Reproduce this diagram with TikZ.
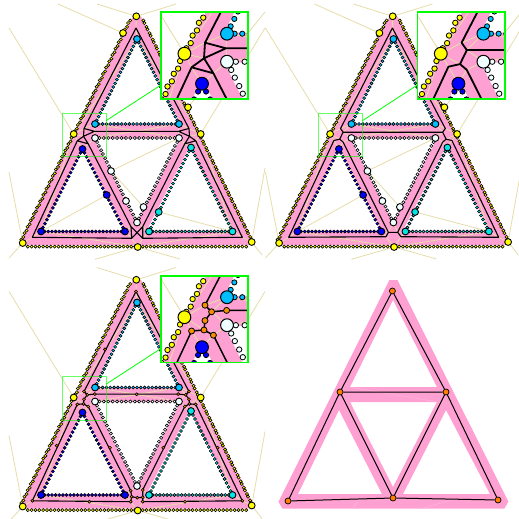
\documentclass[tikz,border=0pt]{standalone}
\definecolor{bandpink}{RGB}{255,160,210}
\definecolor{paleline}{RGB}{230,221,170}
\definecolor{paleband}{RGB}{255,184,222}
\definecolor{skyb}{RGB}{0,191,255}
\definecolor{azur}{RGB}{240,255,255}
\definecolor{blu}{RGB}{0,0,255}
\definecolor{turq}{RGB}{0,229,229}
\definecolor{yel}{RGB}{255,255,0}
\definecolor{orng}{RGB}{245,145,0}
\definecolor{greenbox}{RGB}{0,255,0}
\def\dw{.6pt}\def\bw{.9pt}\def\kw{1.1pt}\def\pw{.8pt}\def\ds{1.15}\def\br{3.4}
\tikzset{
  dotnode/.style={draw=black,fill=#1,line width=\dw},
  bignode/.style={draw=black,fill=#1,line width=\bw},
  onode/.style={draw=black,fill=orng,line width=\dw},
  beige/.style={draw=paleline,line width=\pw},
  skeleton/.style={draw=black,line width=\kw,line join=round,line cap=round},
}
% x1 y1 x2 y2 colour count jitter radius
\newcommand{\chain}[8]{%
  \foreach \i in {1,...,#6}{%
    \pgfmathsetmacro\myt{\i/(#6+1)}%
    \pgfmathsetmacro\myx{#1+(#3-#1)*\myt+(isodd(\i)?1:-1)*#7}%
    \pgfmathsetmacro\myy{#2+(#4-#2)*\myt+(isodd(\i)?1:-1)*#7}%
    \pgfmathsetmacro\myr{#8*\ds}%
    \path[dotnode=#5] (\myx,\myy) circle[radius=\myr];
  }}
\newcommand{\pinkband}{%
  \fill[bandpink,even odd rule]
    (133,16.5)--(141,16.5)--(252,238.2)--(248,245)--(26,245)--(22,238.2)--cycle
    (136.6,36.5)--(93.6,123.5)--(180.6,123.5)--cycle
    (93.6,138.5)--(180.6,138.5)--(136.6,223.5)--cycle
    (82.6,146.5)--(41.6,230.5)--(125.6,230.5)--cycle
    (189.6,146.5)--(146.6,230.5)--(233.6,230.5)--cycle;
}
\newcommand{\scene}[1]{%
  \pinkband
  % fixed points
  \coordinate (yA) at (136.3,16.3); \coordinate (yL) at (22.7,243);
  \coordinate (yR) at (251.7,242); \coordinate (yB) at (137.7,247);
  \coordinate (yML) at (73.7,134); \coordinate (yMR) at (200.7,134);
  \coordinate (sA) at (137,39); \coordinate (sL) at (95,124); \coordinate (sR) at (179,124);
  \coordinate (wL) at (95,138); \coordinate (wR) at (179,138); \coordinate (wB) at (137,222.5);
  \coordinate (bA) at (82.5,149); \coordinate (bL) at (41,231.5); \coordinate (bR) at (125,231.5);
  \coordinate (cA) at (191,147.5); \coordinate (cL) at (149,231.5); \coordinate (cR) at (232.5,231.5);
  \coordinate (top) at (136,28); \coordinate (cbl) at (32.3,237.3); \coordinate (cbr) at (242.3,237.3);
  \ifnum#1=1
    \coordinate (L1) at (84,128.5); \coordinate (L2) at (94.5,131.3); \coordinate (L3) at (83.5,136.3);
    \coordinate (L4) at (77.3,140.8); \coordinate (L5) at (88.2,143.8);
    \coordinate (R1) at (189,128.5); \coordinate (R2) at (178.5,131.3); \coordinate (R3) at (189.5,136.3);
    \coordinate (R4) at (195.7,140.8); \coordinate (R5) at (184.8,143.8);
    \coordinate (B1) at (131,226.7); \coordinate (B2) at (142.7,226.7);
    \coordinate (B3) at (131.7,238.3); \coordinate (B4) at (142.7,238.3);
  \fi
  \ifnum#1=2
    \coordinate (L1) at (84.1,128.5); \coordinate (L2) at (86.7,132.2); \coordinate (L3) at (83.3,139.2);
    \coordinate (L4) at (77.5,140.5); \coordinate (L5) at (86.7,142.1);
    \coordinate (R1) at (188.9,128.5); \coordinate (R2) at (186.3,132.2); \coordinate (R3) at (189.7,139.2);
    \coordinate (R4) at (195.5,140.5); \coordinate (R5) at (186.3,142.1);
    \coordinate (B1) at (132,232.3); \coordinate (B2) at (141.3,232.3);
    \coordinate (B3) at (129.6,236.7); \coordinate (B4) at (144.6,236.7);
  \fi
  \ifnum#1=3
    \coordinate (L1) at (84,128); \coordinate (L2) at (87.3,131.3); \coordinate (L3) at (83.5,140.4);
    \coordinate (L4) at (77.3,140.9); \coordinate (L5) at (88.2,143); \coordinate (L6) at (94.8,130.6);
    \coordinate (L7) at (84,135.7);
    \coordinate (R1) at (189,128); \coordinate (R2) at (185.7,131.3); \coordinate (R3) at (189.5,140.4);
    \coordinate (R4) at (195.7,140.9); \coordinate (R5) at (184.8,143); \coordinate (R6) at (178.2,130.6);
    \coordinate (R7) at (189,135.7);
    \coordinate (B1) at (130.7,227.2); \coordinate (B2) at (142.7,226.5);
    \coordinate (B3) at (130.7,238.2); \coordinate (B4) at (142.7,238.2);
    \coordinate (B5) at (131.7,233.2); \coordinate (B6) at (142.7,233.8); \coordinate (B7) at (137.3,234.2);
    \coordinate (m1) at (105,85.9); \coordinate (m2) at (168.3,85.9); \coordinate (m3) at (56.7,182.2);
    \coordinate (m4) at (217.7,184.2); \coordinate (m5) at (110,184.2); \coordinate (m6) at (163.3,184.2);
    \coordinate (m7) at (89.3,238.2); \coordinate (m8) at (185,238.2); \coordinate (m9) at (136.7,130.8);
  \fi
  % pale lines outside the band
  \path[beige] (97,4)--(yA) (176,4)--(yA) (9,28)--(yML) (265,28)--(yMR)
    (9,172)--(yL) (265,168)--(yR) (9,258)--(yL) (95,259.3)--(yB) (180,259)--(yB)
    (yR)--(262,255);
  \ifnum#1<3
    \coordinate (yU) at (123,33); \coordinate (yV) at (188,107.3);
    \coordinate (wM) at (111,171); \coordinate (wN) at (126,201); \coordinate (wO) at (143.5,207);
    \coordinate (bM) at (106.7,195); \coordinate (cM) at (158.7,212);
    \path[beige] (58,4)--(yU) (yV)--(265,12)
      (bL)--(bM) (wM)--(wR) (wM)--(wO) (cM)--(cR);
  \fi
  % pale lines inside the band
  \path[beige] (yA)--(top) (sA)--(top) (yL)--(cbl) (bL)--(cbl) (yR)--(cbr) (cR)--(cbr)
    (yML)--(sA) (yML)--(bL) (yMR)--(sA) (yMR)--(cR) (yB)--(bL) (yB)--(cR)
    (sL)--(wR) (wL)--(sR)
    (yML)--(L1) (yML)--(L3) (yML)--(L4) (sL)--(L1) (sL)--(L2) (wL)--(L2) (wL)--(L5)
    (bA)--(L4) (bA)--(L5) (yMR)--(R1) (yMR)--(R3) (yMR)--(R4) (sR)--(R1) (sR)--(R2)
    (wR)--(R2) (wR)--(R5) (cA)--(R4) (cA)--(R5)
    (wB)--(B1) (wB)--(B2) (bR)--(B1) (bR)--(B3) (cL)--(B2) (cL)--(B4) (yB)--(B3) (yB)--(B4);
  % skeleton
  \ifnum#1=1
    \path[skeleton] (top)--(L1)--(L2)--(R2)--(R1)--(top)
      (L1)--(L3)--(L2) (L3)--(L4)--(cbl)--(B3)--(B1)--(B4)--(cbr)--(R4)--(R3)--(R1)
      (R3)--(R2) (L3)--(L5)--(B1) (L4)--(L5) (R3)--(R5)--(B2) (R4)--(R5)
      (B2)--(B3) (B2)--(B4);
  \fi
  \ifnum#1=2
    \path[skeleton] (top)--(L1)--(L2)--(R2)--(R1)--(top)
      (L2)--(L3)--(L4)--(cbl)--(B3)--(B1)--(B2)--(B4)--(cbr)--(R4)--(R3)--(R2)
      (L3)--(L5)--(B1) (R3)--(R5)--(B2);
  \fi
  \ifnum#1=3
    \path[skeleton] (top)--(L1)--(L2)--(L6)--(R6)--(R2)--(R1)--(top)
      (L2)--(L7)--(L3)--(L4)--(cbl)--(B3)--(B5)--(B1)--(L5)--(L3)
      (R2)--(R7)--(R3)--(R4)--(cbr)--(B4)--(B6)--(B2)--(R5)--(R3)
      (B5)--(B7)--(B6);
    \foreach \n in {top,cbl,cbr,L1,L2,L3,L4,L5,L6,L7,R1,R2,R3,R4,R5,R6,R7,B1,B2,B3,B4,B5,B6,B7,
                    m1,m2,m3,m4,m5,m6,m7,m8,m9}{
      \path[onode] (\n) circle[radius=1.5];
    }
  \fi
  % dot chains
  \chain{131.5}{17}{20}{243}{yel}{70}{.3}{1.35}
  \chain{141.5}{17}{253}{243}{yel}{70}{.3}{1.35}
  \chain{24}{246.6}{250}{246.6}{yel}{58}{0}{1.35}
  \chain{137}{39}{95}{124}{skyb}{22}{0}{1.3}
  \chain{137}{39}{179}{124}{skyb}{22}{0}{1.3}
  \chain{95}{124}{179}{124}{skyb}{21}{0}{1.3}
  \chain{95}{138}{179}{138}{azur}{18}{0}{1.35}
  \chain{95}{138}{137}{222.5}{azur}{20}{.1}{1.35}
  \chain{179}{138}{137}{222.5}{azur}{20}{.1}{1.35}
  \chain{82.5}{149}{41}{231.5}{blu}{20}{0}{1.3}
  \chain{82.5}{149}{125}{231.5}{blu}{20}{0}{1.3}
  \chain{41}{231.5}{125}{231.5}{blu}{22}{0}{1.3}
  \chain{191}{147.5}{149}{231.5}{turq}{20}{0}{1.3}
  \chain{191}{147.5}{232.5}{231.5}{turq}{20}{0}{1.3}
  \chain{149}{231.5}{232.5}{231.5}{turq}{22}{0}{1.3}
  % large nodes
  \foreach \n in {yA,yL,yR,yB,yML,yMR}{\path[bignode=yel] (\n) circle[radius=\br];}
  \foreach \n in {sA,sL,sR}{\path[bignode=skyb] (\n) circle[radius=\br];}
  \foreach \n in {wL,wR,wB}{\path[bignode=azur] (\n) circle[radius=\br];}
  \foreach \n in {bA,bL,bR}{\path[bignode=blu] (\n) circle[radius=\br];}
  \foreach \n in {cA,cL,cR}{\path[bignode=turq] (\n) circle[radius=\br];}
  \ifnum#1<3
    \foreach \n in {yU,yV}{\path[bignode=yel] (\n) circle[radius=\br];}
    \foreach \n in {wM,wN,wO}{\path[bignode=azur] (\n) circle[radius=\br];}
    \path[bignode=blu] (bM) circle[radius=\br];
    \path[bignode=turq] (cM) circle[radius=\br];
  \fi
}
\newcommand{\panel}[3]{%
  \begin{scope}[shift={(#1,#2)}]
    \def\dw{.6pt}\def\bw{.9pt}\def\kw{1.1pt}\def\pw{.8pt}\def\ds{1.15}\def\br{3.4}
    \scene{#3}
    \coordinate (zbox) at (106,120.7);
    \coordinate (zcorner) at (161,85);
    \draw[greenbox,opacity=.6,line width=1pt] (62,113.3) rectangle (106,156.7);
    \draw[greenbox,line width=.8pt] (zbox)--(zcorner);
    \fill[white] (161,12.3) rectangle (248.3,99);
    \begin{scope}
      \clip (161,12.3) rectangle (248.3,99);
      \begin{scope}[shift={(37,-214.3)},scale=2]
        \def\dw{.8pt}\def\bw{1pt}\def\pw{.9pt}\def\ds{1}\def\br{3.2}
        \ifnum#3=3 \def\kw{1.5pt}\else \def\kw{1.8pt}\fi
        \scene{#3}
      \end{scope}
    \end{scope}
    \draw[greenbox,line width=1.8pt] (161,12.3) rectangle (248.3,99);
  \end{scope}}
\begin{document}
\begin{tikzpicture}[x=1pt,y=-1pt]
  \useasboundingbox (0,0) rectangle (519,519);
  \fill[white] (0,0) rectangle (519,519);
  \panel{0}{0}{1}
  \panel{256.4}{0}{2}
  \panel{0}{263.5}{3}
  \begin{scope}[shift={(256.4,263.5)}]
    \pinkband
    \path[draw=paleband,line width=.5pt] (95,124)--(179,138) (96,245)--(106,232) (165,245)--(200,235);
    \node[circle,draw=black,fill=orange,line width=.7pt,inner sep=0pt,minimum size=6pt] (n1) at (136,27.5) {};
    \node[circle,draw=black,fill=orange,line width=.7pt,inner sep=0pt,minimum size=6pt] (n2) at (83.6,128.5) {};
    \node[circle,draw=black,fill=orange,line width=.7pt,inner sep=0pt,minimum size=6pt] (n3) at (189.6,128.5) {};
    \node[circle,draw=black,fill=orange,line width=.7pt,inner sep=0pt,minimum size=6pt] (n4) at (31.6,237.5) {};
    \node[circle,draw=black,fill=orange,line width=.7pt,inner sep=0pt,minimum size=6pt] (n5) at (136.6,234.5) {};
    \node[circle,draw=black,fill=orange,line width=.7pt,inner sep=0pt,minimum size=6pt] (n6) at (241.6,236.5) {};
    \draw[black,line width=1pt] (n1)--(n2) (n1)--(n3) (n2)--(n3) (n2)--(n4) (n2)--(n5)
      (n3)--(n5) (n3)--(n6) (n4)--(n5) (n5)--(n6);
  \end{scope}
\end{tikzpicture}
\end{document}
